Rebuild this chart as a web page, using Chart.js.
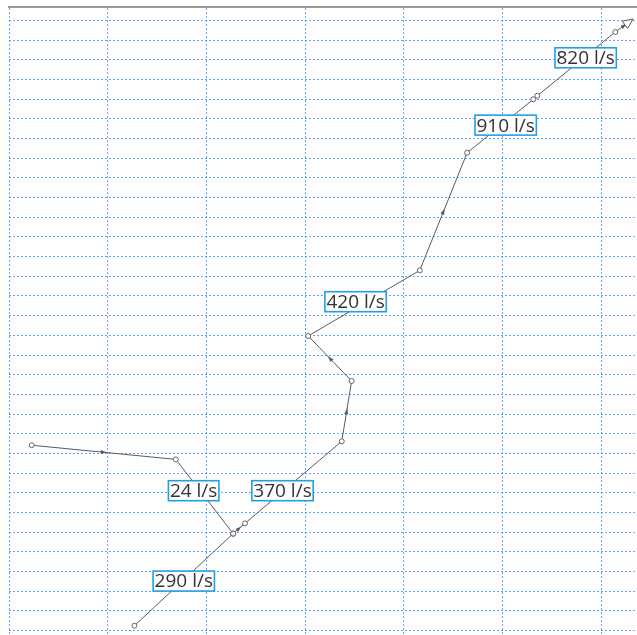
<!DOCTYPE html>
<html>
<head>
<meta charset="utf-8">
<script src="https://cdn.jsdelivr.net/npm/chart.js@4.4.1/dist/chart.umd.min.js"></script>
<style>
    html, body { margin: 0; padding: 0; background: #fff; }
    #wrap { width: 637px; height: 635px; }
</style>
</head>
<body>
<div id="wrap"><canvas id="flowChart" width="637" height="635"></canvas></div>
<script>
// Tramos de la red (unidades de la cuadrícula)
const westX = [0.23, 1.69, 2.27];
const westY = [9.42, 8.70, 4.93];
const southX = [1.27, 2.27];
const southY = [0.25, 4.93];
const mainX = [2.27, 2.39, 3.37, 3.47, 3.03, 4.16, 4.64, 5.31, 5.35, 6.14, 6.32];
const mainY = [4.93, 5.45, 9.62, 12.68, 14.97, 18.30, 24.28, 26.99, 27.17, 30.41, 31.07];

// Etiquetas de caudal
const flowLabels = ['24 l/s', '290 l/s', '370 l/s', '420 l/s', '910 l/s', '820 l/s'];
const labelX = [1.87, 1.77, 2.77, 3.51, 5.03, 5.84];
const labelY = [7.11, 2.52, 7.11, 16.71, 25.68, 29.10];

const GRID_BLUE = 'rgba(40, 140, 255, 0.75)';
const LINE_GRAY = '#5a5a5a';

function toPoints(xs, ys) {
    return xs.map((x, i) => ({ x: x, y: ys[i] }));
}

// Flechas, punta final y etiquetas
const flowOverlay = {
    id: 'flowOverlay',
    afterDatasetsDraw(chart) {
        const ctx = chart.ctx;
        const px = v => chart.scales.x.getPixelForValue(v);
        const py = v => chart.scales.y.getPixelForValue(v);

        ctx.save();
        // flechas pequeñas a mitad de cada tramo
        [[westX, westY], [southX, southY], [mainX, mainY]].forEach(([xv, yv]) => {
            for (let i = 0; i < xv.length - 1; i++) {
                const x1 = px(xv[i]), y1 = py(yv[i]);
                const x2 = px(xv[i + 1]), y2 = py(yv[i + 1]);
                const len = Math.hypot(x2 - x1, y2 - y1);
                if (len < 8) continue;
                const ux = (x2 - x1) / len, uy = (y2 - y1) / len;
                const mx = (x1 + x2) / 2, my = (y1 + y2) / 2;
                ctx.beginPath();
                ctx.moveTo(mx + ux * 3, my + uy * 3);
                ctx.lineTo(mx - ux * 3 - uy * 2, my - uy * 3 + ux * 2);
                ctx.lineTo(mx - ux * 3 + uy * 2, my - uy * 3 - ux * 2);
                ctx.closePath();
                ctx.fillStyle = LINE_GRAY;
                ctx.fill();
            }
        });

        // punta hueca al final del tramo principal
        const n = mainX.length;
        const ex = px(mainX[n - 1]), ey = py(mainY[n - 1]);
        const sx = px(mainX[n - 2]), sy = py(mainY[n - 2]);
        const l = Math.hypot(ex - sx, ey - sy);
        const dx = (ex - sx) / l, dy = (ey - sy) / l;
        ctx.beginPath();
        ctx.moveTo(ex, ey);
        ctx.lineTo(ex - dx * 10 - dy * 4.5, ey - dy * 10 + dx * 4.5);
        ctx.lineTo(ex - dx * 10 + dy * 4.5, ey - dy * 10 - dx * 4.5);
        ctx.closePath();
        ctx.fillStyle = '#fff';
        ctx.fill();
        ctx.lineWidth = 1;
        ctx.strokeStyle = LINE_GRAY;
        ctx.stroke();

        // cajas de texto
        ctx.font = '19px "Open Sans"';
        ctx.textAlign = 'center';
        ctx.textBaseline = 'middle';
        flowLabels.forEach((txt, i) => {
            const cx = px(labelX[i]), cy = py(labelY[i]);
            const w = ctx.measureText(txt).width + 3;
            const h = 20;
            ctx.fillStyle = '#fff';
            ctx.fillRect(cx - w / 2, cy - h / 2, w, h);
            ctx.lineWidth = 1.6;
            ctx.strokeStyle = '#1ea0e6';
            ctx.strokeRect(cx - w / 2, cy - h / 2, w, h);
            ctx.fillStyle = '#333';
            ctx.fillText(txt, cx, cy + 1);
        });
        ctx.restore();
    }
};

function lineDataset(xs, ys, lastHidden) {
    return {
        data: toPoints(xs, ys),
        showLine: true,
        borderColor: LINE_GRAY,
        borderWidth: 1,
        pointRadius: xs.map((_, i) => (lastHidden && i === xs.length - 1) ? 0 : 2.5),
        pointBackgroundColor: '#fff',
        pointBorderColor: '#666',
        pointBorderWidth: 1
    };
}

const ctx = document.getElementById('flowChart').getContext('2d');
new Chart(ctx, {
    type: 'scatter',
    data: {
        datasets: [
            lineDataset(westX, westY, false),
            lineDataset(southX, southY, false),
            lineDataset(mainX, mainY, true)
        ]
    },
    options: {
        responsive: false,
        animation: false,
        layout: { autoPadding: false, padding: { left: 9, top: 7, right: 0, bottom: 0 } },
        plugins: {
            legend: { display: false },
            tooltip: { enabled: false }
        },
        scales: {
            x: {
                type: 'linear',
                position: 'top',
                min: 0,
                max: 6.36,
                ticks: { display: false, stepSize: 1, includeBounds: false },
                grid: { color: GRID_BLUE, lineWidth: 1, drawTicks: false },
                border: { display: true, color: '#999', width: 2, dash: [2, 2] }
            },
            y: {
                type: 'linear',
                min: -0.22,
                max: 31.68,
                ticks: { display: false, stepSize: 1, includeBounds: false },
                grid: { color: GRID_BLUE, lineWidth: 1, drawTicks: false },
                border: { display: false, dash: [2, 2] }
            }
        }
    },
    plugins: [flowOverlay]
});
</script>
</body>
</html>
